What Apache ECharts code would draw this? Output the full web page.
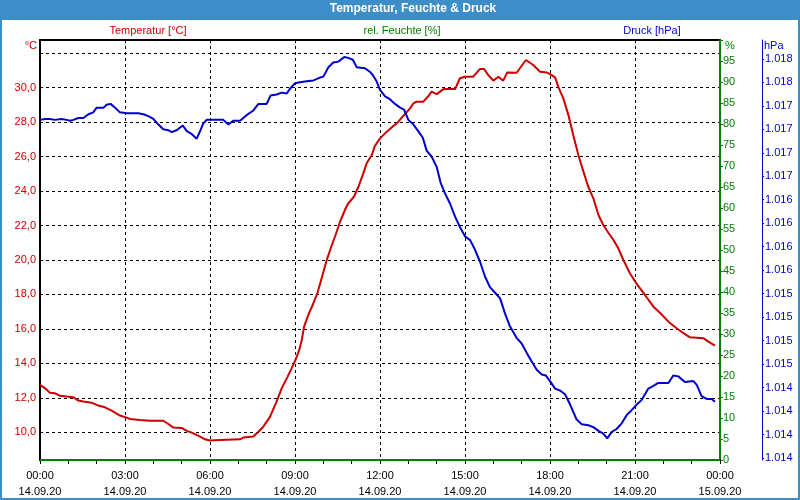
<!DOCTYPE html>
<html><head><meta charset="utf-8">
<script src="https://cdn.jsdelivr.net/npm/echarts@6/dist/echarts.min.js"></script>
<style>html,body{margin:0;padding:0;background:#fff}#c{width:800px;height:500px}</style>
</head><body><div id="c"></div>
<script>
// ---- data (hours since 14.09.20 00:00) ----
const tempHours = [0,0.18,0.35,0.53,0.71,0.94,1.18,1.35,1.53,1.82,2.06,2.29,2.53,2.82,3.06,3.18,3.53,3.88,4.35,4.53,4.71,5.0,5.18,5.41,5.65,5.82,6.0,
 6.35,7.06,7.18,7.53,7.71,7.88,8.12,8.35,8.53,8.71,8.88,9.04,9.15,9.24,9.32,9.47,9.65,9.79,9.94,10.12,10.26,10.41,10.59,10.76,10.88,11.08,11.24,11.41,11.53,11.71,11.82,12.0,
 12.24,12.47,12.65,12.82,13.06,13.18,13.29,13.53,13.71,13.82,14.0,14.24,14.65,14.82,15.0,15.29,15.53,15.67,15.82,16.0,16.18,16.35,16.49,16.82,17.15,17.41,17.65,17.88,18.0,
 18.18,18.29,18.47,18.65,18.82,19.0,19.18,19.35,19.53,19.71,19.88,20.06,20.24,20.41,20.59,20.82,21.06,21.35,21.65,21.88,22.18,22.47,22.71,22.94,23.18,23.41,23.59,23.82];
const tempValues = [12.75,12.55,12.30,12.26,12.12,12.07,12.03,11.84,11.78,11.72,11.55,11.45,11.26,10.97,10.85,10.77,10.71,10.67,10.67,10.48,10.27,10.25,10.08,9.94,9.75,9.59,9.52,
 9.55,9.59,9.69,9.75,10.03,10.32,10.91,11.78,12.55,13.13,13.71,14.29,14.78,15.36,16.13,16.81,17.49,18.07,18.94,20.0,20.68,21.35,22.22,22.90,23.29,23.67,24.25,25.03,25.61,26.09,26.62,27.06,
 27.45,27.78,28.03,28.36,28.80,29.09,29.19,29.19,29.52,29.77,29.63,29.92,29.92,30.55,30.64,30.64,31.09,31.09,30.74,30.41,30.64,30.41,30.89,30.87,31.61,31.32,30.93,30.89,30.79,
 30.60,30.06,29.38,28.41,27.26,26.09,25.13,24.25,23.58,22.61,22.03,21.58,21.16,20.68,20.0,19.23,18.61,17.97,17.29,16.94,16.42,16.04,15.75,15.51,15.49,15.46,15.26,15.03];

const pressHours = [0,0.18,0.35,0.53,0.76,0.94,1.06,1.18,1.35,1.53,1.71,1.88,2.0,2.24,2.35,2.49,2.65,2.82,3.06,3.47,3.65,3.82,4.0,4.18,4.35,4.53,4.65,4.82,5.04,5.18,5.35,5.53,5.65,5.76,5.88,
 6.0,6.47,6.65,6.82,7.06,7.29,7.53,7.71,8.0,8.14,8.35,8.53,8.71,8.82,9.0,9.18,9.41,9.65,9.88,10.0,10.18,10.35,10.53,10.74,10.88,11.04,11.18,11.47,11.65,11.76,11.88,
 12.0,12.18,12.35,12.53,12.71,12.85,13.0,13.18,13.35,13.51,13.65,13.82,14.0,14.14,14.29,14.47,14.65,14.82,15.0,15.18,15.35,15.53,15.71,15.88,16.06,16.24,16.41,16.59,16.82,17.0,17.18,17.35,17.53,17.71,17.85,
 18.0,18.18,18.35,18.53,18.71,18.94,19.12,19.35,19.53,19.71,19.88,20.02,20.18,20.35,20.53,20.71,20.88,21.06,21.24,21.47,21.65,21.82,22.18,22.35,22.53,22.76,23.06,23.18,23.35,23.53,23.71,23.82];
const pressValues = [1017.20,1017.21,1017.21,1017.20,1017.21,1017.20,1017.19,1017.20,1017.22,1017.22,1017.26,1017.28,1017.33,1017.33,1017.36,1017.37,1017.33,1017.28,1017.27,1017.27,1017.26,1017.24,1017.21,1017.15,1017.10,1017.09,1017.07,1017.09,1017.14,1017.08,1017.05,1017.00,1017.08,1017.16,1017.20,
 1017.20,1017.20,1017.15,1017.19,1017.19,1017.25,1017.30,1017.37,1017.37,1017.46,1017.47,1017.49,1017.48,1017.53,1017.59,1017.60,1017.61,1017.62,1017.65,1017.66,1017.76,1017.81,1017.82,1017.87,1017.86,1017.84,1017.76,1017.75,1017.71,1017.67,1017.61,
 1017.52,1017.45,1017.42,1017.37,1017.33,1017.31,1017.20,1017.15,1017.08,1017.01,1016.87,1016.81,1016.70,1016.53,1016.42,1016.31,1016.17,1016.06,1015.96,1015.92,1015.82,1015.69,1015.53,1015.42,1015.36,1015.30,1015.14,1015.00,1014.88,1014.82,1014.72,1014.63,1014.54,1014.49,1014.48,
 1014.42,1014.34,1014.32,1014.28,1014.17,1014.01,1013.96,1013.95,1013.93,1013.89,1013.86,1013.81,1013.88,1013.91,1013.97,1014.06,1014.11,1014.17,1014.22,1014.34,1014.37,1014.40,1014.40,1014.48,1014.47,1014.41,1014.42,1014.38,1014.26,1014.23,1014.23,1014.20];

const humHours = [0, 24];
const humValues = [0, 0];

const tempLabelTicks = [10,12,14,16,18,20,22,24,26,28,30];
const tempGridTicks = [10,12,14,16,18,20,22,24,26,28,30,32];
const pressTicks = [1013.6,1013.85,1014.1,1014.35,1014.6,1014.85,1015.1,1015.35,1015.6,1015.85,1016.1,1016.35,1016.6,1016.85,1017.1,1017.35,1017.6,1017.85];

const FONT = '"Liberation Sans", Arial, sans-serif';
const RED = '#cc0000', GREEN = '#008000', BLUE = '#0000cc', BAR = '#3c8ec8';

const pairs = (xs, ys) => xs.map((x, i) => [x, ys[i]]);
const pad = n => (n < 10 ? '0' : '') + n;

const chart = echarts.init(document.getElementById('c'), null, {renderer: 'canvas'});
chart.setOption({
  animation: false,
  backgroundColor: '#fff',
  textStyle: {fontFamily: FONT},
  graphic: [
    {type: 'rect', z: 0, shape: {x: 0, y: 0, width: 800, height: 20}, style: {fill: BAR}},
    {type: 'rect', z: 0, shape: {x: 1, y: 1, width: 798, height: 498}, style: {fill: 'none', stroke: BAR, lineWidth: 2}}
  ],
  title: [
    {text: 'Temperatur, Feuchte & Druck', left: 413, top: 3, textAlign: 'center', padding: 0,
     textStyle: {color: '#fff', fontSize: 12, fontWeight: 'bold', fontFamily: FONT}},
    {text: 'Temperatur [°C]', left: 148, top: 25, textAlign: 'center', padding: 0,
     textStyle: {color: RED, fontSize: 11, fontWeight: 'normal', fontFamily: FONT}},
    {text: 'rel. Feuchte [%]', left: 402, top: 25, textAlign: 'center', padding: 0,
     textStyle: {color: GREEN, fontSize: 11, fontWeight: 'normal', fontFamily: FONT}},
    {text: 'Druck [hPa]', left: 652, top: 25, textAlign: 'center', padding: 0,
     textStyle: {color: BLUE, fontSize: 11, fontWeight: 'normal', fontFamily: FONT}},
    {text: '°C', left: 37, top: 40, textAlign: 'right', padding: 0,
     textStyle: {color: RED, fontSize: 11, fontWeight: 'normal', fontFamily: FONT}},
    {text: '%', left: 725, top: 40, padding: 0,
     textStyle: {color: GREEN, fontSize: 11, fontWeight: 'normal', fontFamily: FONT}},
    {text: 'hPa', left: 764, top: 40, padding: 0,
     textStyle: {color: BLUE, fontSize: 11, fontWeight: 'normal', fontFamily: FONT}}
  ],
  grid: {left: 40, right: 80, top: 40, bottom: 40, show: true, borderColor: '#000', borderWidth: 2, backgroundColor: '#fff'},
  xAxis: {
    type: 'value', min: 0, max: 24, interval: 3,
    axisLine: {show: true, lineStyle: {color: '#000', width: 2}},
    axisTick: {show: true, length: 4, lineStyle: {color: '#000'}},
    minorTick: {show: true, splitNumber: 3, length: 4, lineStyle: {color: '#000'}},
    splitLine: {show: true, lineStyle: {color: '#000', type: [3, 3], width: 1}},
    axisLabel: {color: '#000', fontSize: 11, fontFamily: FONT, lineHeight: 16, margin: 8,
      formatter: v => pad(v % 24) + ':00\n' + (v >= 24 ? '15.09.20' : '14.09.20')}
  },
  yAxis: [
    {type: 'value', position: 'left', min: 8.39, max: 32.77,
     axisLine: {show: true, lineStyle: {color: '#000', width: 2}},
     axisTick: {show: false, customValues: tempGridTicks},
     splitLine: {show: true, lineStyle: {color: '#000', type: [3, 3], width: 1}},
     axisLabel: {color: RED, fontSize: 11, fontFamily: FONT, margin: 4, customValues: tempLabelTicks,
       formatter: v => v.toFixed(1).replace('.', ',')}},
    {type: 'value', position: 'right', min: 0, max: 100, interval: 5,
     axisLine: {show: true, lineStyle: {color: GREEN, width: 2}},
     axisTick: {show: true, length: 3, lineStyle: {color: GREEN}},
     splitLine: {show: false},
     axisLabel: {color: GREEN, fontSize: 11, fontFamily: FONT, margin: 3,
       formatter: v => (v >= 100 ? '' : String(v))}},
    {type: 'value', position: 'right', offset: 42, min: 1013.58, max: 1018.05,
     axisLine: {show: true, lineStyle: {color: BLUE, width: 1}},
     axisTick: {show: true, length: 2, lineStyle: {color: BLUE}, customValues: pressTicks},
     splitLine: {show: false},
     axisLabel: {color: BLUE, fontSize: 11, fontFamily: FONT, margin: 3, customValues: pressTicks,
       formatter: v => { const r = Math.round(v); return Math.floor(r / 1000) + '.' + String(r % 1000).padStart(3, '0'); }}}
  ],
  series: [
    {name: 'Temperatur [°C]', type: 'line', yAxisIndex: 0, data: pairs(tempHours, tempValues),
     showSymbol: false, symbol: 'none', lineStyle: {color: RED, width: 2}, itemStyle: {color: RED}, z: 3},
    {name: 'rel. Feuchte [%]', type: 'line', yAxisIndex: 1, data: pairs(humHours, humValues), clip: false,
     showSymbol: false, symbol: 'none', lineStyle: {color: GREEN, width: 2}, itemStyle: {color: GREEN}, z: 3},
    {name: 'Druck [hPa]', type: 'line', yAxisIndex: 2, data: pairs(pressHours, pressValues),
     showSymbol: false, symbol: 'none', lineStyle: {color: BLUE, width: 2}, itemStyle: {color: BLUE}, z: 3}
  ]
});
</script></body></html>
